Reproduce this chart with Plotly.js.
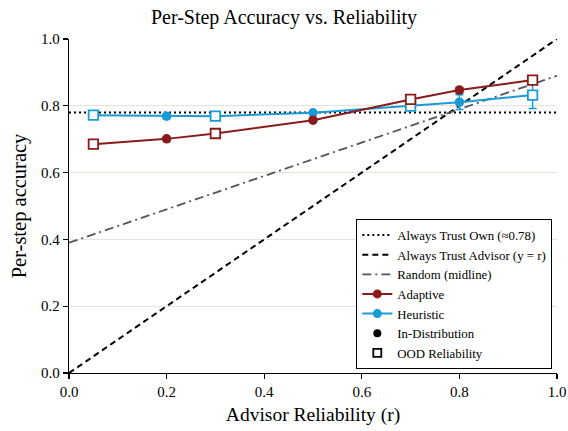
<!DOCTYPE html>
<html>
<head>
<meta charset="utf-8">
<script src="https://cdn.plot.ly/plotly-3.0.1.min.js"></script>
<style>html,body{margin:0;padding:0;background:#fff;}#chart{width:568px;height:431px;}</style>
</head>
<body>
<div id="chart"></div>
<script>
// ---- data ----
const trustOwn = 0.78;
const refLineR = [0, 1];

const idR = [0.2, 0.5, 0.8];
const oodR = [0.05, 0.3, 0.7, 0.95];

const adaptiveID = [0.701, 0.757, 0.847];
const adaptiveIDErr = [0.005, 0.005, 0.008];
const adaptiveOOD = [0.685, 0.717, 0.819, 0.877];
const adaptiveOODErr = [0.004, 0.004, 0.005, 0.006];

const heuristicID = [0.769, 0.779, 0.811];
const heuristicIDErr = [0.008, 0.004, 0.022];
const heuristicOOD = [0.772, 0.769, 0.799, 0.832];
const heuristicOODErr = [0.003, 0.003, 0.008, 0.04];

const xTicks = [0, 0.2, 0.4, 0.6, 0.8, 1.0];
const yTicks = [0, 0.2, 0.4, 0.6, 0.8, 1.0];

// ---- styles ----
const RED = '#8b1a1a';
const BLUE = '#1a9ad6';
const FONT = 'Liberation Serif, Times New Roman, serif';

function combine(idX, idY, idE, oodX, oodY, oodE) {
  const pts = [];
  idX.forEach((x, i) => pts.push({x, y: idY[i], e: idE[i], ood: false}));
  oodX.forEach((x, i) => pts.push({x, y: oodY[i], e: oodE[i], ood: true}));
  pts.sort((a, b) => a.x - b.x);
  return pts;
}

function seriesTrace(pts, color) {
  return {
    x: pts.map(p => p.x), y: pts.map(p => p.y),
    type: 'scatter', mode: 'lines+markers', showlegend: false,
    line: {color: color, width: 2},
    error_y: {type: 'data', array: pts.map(p => p.e), visible: true, color: color, thickness: 1.5, width: 4},
    marker: {
      symbol: pts.map(p => p.ood ? 'square' : 'circle'),
      size: 9.5, opacity: 1,
      color: pts.map(p => p.ood ? '#ffffff' : color),
      line: {color: color, width: pts.map(p => p.ood ? 1.8 : 0)}
    },
    cliponaxis: false
  };
}

const adaptivePts = combine(idR, adaptiveID, adaptiveIDErr, oodR, adaptiveOOD, adaptiveOODErr);
const heuristicPts = combine(idR, heuristicID, heuristicIDErr, oodR, heuristicOOD, heuristicOODErr);

const traces = [
  {x: refLineR, y: refLineR.map(() => trustOwn), type: 'scatter', mode: 'lines',
   name: 'Always Trust Own (≈0.78)', line: {color: '#000', width: 2, dash: '2px,3px'}},
  {x: refLineR, y: refLineR.map(r => r), type: 'scatter', mode: 'lines',
   name: 'Always Trust Advisor (y = r)', line: {color: '#000', width: 2, dash: '6px,4px'}},
  {x: refLineR, y: refLineR.map(r => (trustOwn + r) / 2), type: 'scatter', mode: 'lines',
   name: 'Random (midline)', line: {color: '#555', width: 1.8, dash: '9px,4px,2px,4px'}},
  seriesTrace(heuristicPts, BLUE),
  seriesTrace(adaptivePts, RED),
  // legend-only entries
  {x: [null], y: [null], type: 'scatter', mode: 'lines+markers', name: 'Adaptive',
   line: {color: RED, width: 2}, marker: {color: RED, size: 9, symbol: 'circle'}},
  {x: [null], y: [null], type: 'scatter', mode: 'lines+markers', name: 'Heuristic',
   line: {color: BLUE, width: 2}, marker: {color: BLUE, size: 9, symbol: 'circle'}},
  {x: [null], y: [null], type: 'scatter', mode: 'markers', name: 'In-Distribution',
   marker: {color: '#000', size: 8, symbol: 'circle'}},
  {x: [null], y: [null], type: 'scatter', mode: 'markers', name: 'OOD Reliability',
   marker: {color: '#fff', size: 8, symbol: 'square', line: {color: '#000', width: 1.8}}}
];

const layout = {
  width: 568, height: 431,
  margin: {l: 69, r: 11, t: 39, b: 58},
  paper_bgcolor: '#fff', plot_bgcolor: '#fff',
  font: {family: FONT, color: '#000', size: 15},
  title: {text: 'Per-Step Accuracy vs. Reliability', font: {family: FONT, size: 20, color: '#000'},
          x: 0.5, xanchor: 'center', y: 0.96, yanchor: 'middle'},
  xaxis: {
    range: [0, 1], tickvals: xTicks, ticktext: xTicks.map(v => v.toFixed(1)),
    showgrid: false, zeroline: false, showline: true, linecolor: '#000', linewidth: 1.2,
    ticks: 'outside', ticklen: 5, tickwidth: 1.2, tickcolor: '#000',
    tickfont: {family: FONT, size: 15},
    title: {text: 'Advisor Reliability (r)', font: {family: FONT, size: 19.5}, standoff: 8}
  },
  yaxis: {
    range: [0, 1], tickvals: yTicks, ticktext: yTicks.map(v => v.toFixed(1)),
    showgrid: true, gridcolor: '#e4e4da', gridwidth: 1, zeroline: false,
    showline: true, linecolor: '#000', linewidth: 1.2,
    ticks: 'outside', ticklen: 5, tickwidth: 1.2, tickcolor: '#000',
    tickfont: {family: FONT, size: 15},
    title: {text: 'Per-step accuracy', font: {family: FONT, size: 20.5}, standoff: 8}
  },
  legend: {
    x: 0.99, y: 0.012, xanchor: 'right', yanchor: 'bottom',
    bgcolor: '#fff', bordercolor: '#000', borderwidth: 1.2,
    font: {family: FONT, size: 12.8, color: '#000'},
    tracegroupgap: 0, itemwidth: 30
  },
  showlegend: true
};

Plotly.newPlot('chart', traces, layout, {displayModeBar: false, staticPlot: true});
</script>
</body>
</html>
